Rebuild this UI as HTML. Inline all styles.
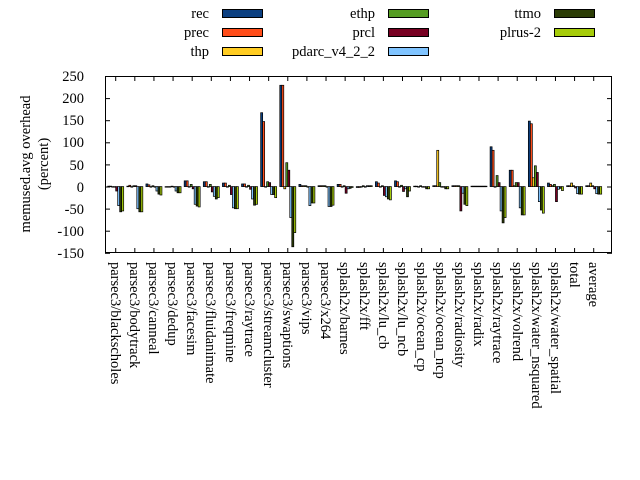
<!DOCTYPE html>
<html><head><meta charset="utf-8"><style>
html,body{margin:0;padding:0;background:#fff;}
svg{display:block;font-family:"Liberation Serif",serif;font-size:14.5px;}
</style></head><body>
<svg id="s" width="640" height="480" xmlns="http://www.w3.org/2000/svg">
<g text-anchor="end" fill="#000">
<text x="209" y="18">rec</text><text x="209" y="37">prec</text><text x="209" y="56">thp</text>
<text x="375" y="18">ethp</text><text x="375" y="37">prcl</text><text x="375" y="56">pdarc_v4_2_2</text>
<text x="541" y="18">ttmo</text><text x="541" y="37">plrus-2</text>
</g>
<g stroke="#000" stroke-width="1">
<rect x="222.5" y="9.5" width="40" height="8" fill="#0b3f80"/>
<rect x="222.5" y="28.5" width="40" height="8" fill="#ff4d1a"/>
<rect x="222.5" y="47.5" width="40" height="8" fill="#ffcc22"/>
<rect x="388.5" y="9.5" width="40" height="8" fill="#559c22"/>
<rect x="388.5" y="28.5" width="40" height="8" fill="#770022"/>
<rect x="388.5" y="47.5" width="40" height="8" fill="#80c4ff"/>
<rect x="554.5" y="9.5" width="40" height="8" fill="#2b3c05"/>
<rect x="554.5" y="28.5" width="40" height="8" fill="#a6cc0a"/>
</g>
<g text-anchor="end">
<text x="84" y="81">250</text><text x="84" y="103">200</text><text x="84" y="125">150</text>
<text x="84" y="147">100</text><text x="84" y="170">50</text><text x="84" y="192">0</text>
<text x="84" y="214">-50</text><text x="84" y="236">-100</text><text x="84" y="258">-150</text>
</g>
<g text-anchor="middle">
<text transform="translate(30,164) rotate(-90)">memused.avg overhead</text>
<text transform="translate(48,164) rotate(-90)">(percent)</text>
</g>
<g id="bars"></g>
<rect x="105.5" y="76.5" width="506" height="176" fill="none" stroke="#000"/>
<g id="ticks" stroke="#000"></g>
<g id="xl">
<text transform="translate(111,262) rotate(90)">parsec3/blackscholes</text>
<text transform="translate(130,262) rotate(90)">parsec3/bodytrack</text>
<text transform="translate(149,262) rotate(90)">parsec3/canneal</text>
<text transform="translate(168,262) rotate(90)">parsec3/dedup</text>
<text transform="translate(187,262) rotate(90)">parsec3/facesim</text>
<text transform="translate(206,262) rotate(90)">parsec3/fluidanimate</text>
<text transform="translate(226,262) rotate(90)">parsec3/freqmine</text>
<text transform="translate(245,262) rotate(90)">parsec3/raytrace</text>
<text transform="translate(264,262) rotate(90)">parsec3/streamcluster</text>
<text transform="translate(283,262) rotate(90)">parsec3/swaptions</text>
<text transform="translate(302,262) rotate(90)">parsec3/vips</text>
<text transform="translate(321,262) rotate(90)">parsec3/x264</text>
<text transform="translate(340,262) rotate(90)">splash2x/barnes</text>
<text transform="translate(360,262) rotate(90)">splash2x/fft</text>
<text transform="translate(379,262) rotate(90)">splash2x/lu_cb</text>
<text transform="translate(398,262) rotate(90)">splash2x/lu_ncb</text>
<text transform="translate(417,262) rotate(90)">splash2x/ocean_cp</text>
<text transform="translate(436,262) rotate(90)">splash2x/ocean_ncp</text>
<text transform="translate(455,262) rotate(90)">splash2x/radiosity</text>
<text transform="translate(474,262) rotate(90)">splash2x/radix</text>
<text transform="translate(493,262) rotate(90)">splash2x/raytrace</text>
<text transform="translate(513,262) rotate(90)">splash2x/volrend</text>
<text transform="translate(532,262) rotate(90)">splash2x/water_nsquared</text>
<text transform="translate(551,262) rotate(90)">splash2x/water_spatial</text>
<text transform="translate(570,262) rotate(90)">total</text>
<text transform="translate(589,262) rotate(90)">average</text>
</g>
</svg>
<script>
(function(){
var C=["#0b3f80","#ff4d1a","#ffcc22","#559c22","#770022","#80c4ff","#2b3c05","#a6cc0a"];
var D=[[1,1,0,0,-10,-43,-57,-55],[1,3,0,2,2,-50,-57,-57],[6,4,0,2,0,-10,-17,-19],[0,0,0,1,0,-10,-14,-14],
[13,13,0,5,-5,-40,-44,-46],[11,11,0,5,-12,-22,-28,-25],[8,8,0,3,-18,-48,-50,-50],[6,6,0,3,-6,-28,-42,-40],
[167,147,0,11,9,-18,-18,-25],[229,229,-5,54,37,-70,-136,-104],[5,2,2,2,0,-43,-37,-37],[2,2,2,2,0,-45,-45,-42],
[5,5,0,2,-15,-5,-4,-2],[-2,-2,0,2,0,2,2,2],[11,8,0,2,-20,-23,-28,-30],[13,11,0,3,-11,-5,-23,-10],
[1,1,0,2,0,0,-5,-5],[2,2,82,9,0,0,-5,-5],[2,2,2,2,-55,-15,-40,-43],[1,1,1,1,1,1,1,1],
[90,82,0,25,9,-55,-82,-70],[37,37,2,9,9,-48,-64,-64],[148,142,20,47,32,-34,-53,-60],[8,5,2,5,-34,-6,-4,-9],
[2,2,8,2,-3,-16,-17,-17],[2,2,8,2,-5,-16,-17,-17]];
var ns="http://www.w3.org/2000/svg",b=document.getElementById("bars"),t=document.getElementById("ticks");
var z=186.6,k=0.4425;
function el(n,a,p){var e=document.createElementNS(ns,n);for(var q in a)e.setAttribute(q,a[q]);p.appendChild(e);}
for(var g=0;g<26;g++){var cx=115.7+g*19.12;
 el("line",{x1:cx,y1:253,x2:cx,y2:248},t);el("line",{x1:cx,y1:76,x2:cx,y2:81},t);
 for(var i=0;i<8;i++){var v=D[g][i],y1=z-v*k,yy=Math.min(y1,z),h=Math.max(Math.abs(v*k),0.6);
  el("rect",{x:cx-8+2*i,y:yy,width:2,height:h,fill:C[i],stroke:"#000","stroke-width":0.7},b);}}
for(var j=0;j<9;j++){var y=76.5+j*22.1;el("line",{x1:105,y1:y,x2:110,y2:y},t);el("line",{x1:612,y1:y,x2:607,y2:y},t);}
})();
</script>
</body></html>
